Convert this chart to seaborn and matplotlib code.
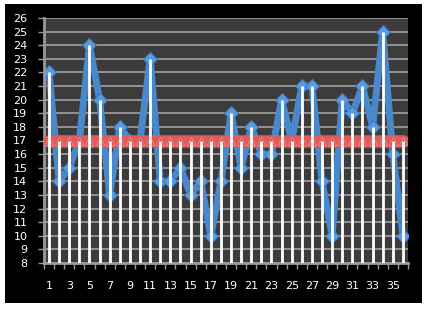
import numpy as np
import pandas as pd
import matplotlib
matplotlib.use('Agg')
import matplotlib.pyplot as plt
import seaborn as sns
from matplotlib.patches import Rectangle

## Data
categories = list(range(1, 37))
values = [22, 14, 15, 17, 24, 20, 13, 18, 17, 17, 23, 14, 14, 15, 13, 14, 10, 14,
          19, 15, 18, 16, 16, 20, 17, 21, 21, 14, 10, 20, 19, 21, 18, 25, 16, 10]
limit = [17] * 36
y_ticks = list(range(8, 27))
x_labels = [str(c) for c in categories if c % 2 == 1]

df = pd.DataFrame({'cat': categories, 'value': values, 'limit': limit})

sns.set_style('dark')
plt.rcParams['font.family'] = ['DejaVu Sans']

fig = plt.figure(figsize=(4.27, 3.09), dpi=100, facecolor='white')
bg = Rectangle((5 / 427, 1 - 303 / 309), 417 / 427, 299 / 309,
               transform=fig.transFigure, facecolor='black', edgecolor='none', zorder=-5)
fig.add_artist(bg)
ax = fig.add_axes([44 / 427, 46 / 309, 364 / 427, 245 / 309])
ax.set_facecolor('#3c3c3c')

## Horizontal grid
for y in y_ticks:
    ax.axhline(y, color='#9a9a9a', linewidth=1.3, zorder=1)

## Value series
sns.lineplot(data=df, x='cat', y='value', ax=ax, color='#4a88cc', linewidth=5,
             marker='D', markersize=7.5, markerfacecolor='#5b9ae0',
             markeredgecolor='#3a78bc', zorder=2)

## Limit series
sns.lineplot(data=df, x='cat', y='limit', ax=ax, color='#e05c5c', linewidth=9,
             marker='^', markersize=6, markerfacecolor='#d04848',
             markeredgecolor='#f08080', zorder=3)

## Drop lines
tops = np.maximum(df['value'], df['limit'])
ax.vlines(df['cat'], 8, tops, color='white', linewidth=2, zorder=4)

ax.set_xlim(0.5, 36.5)
ax.set_ylim(8, 26)
ax.set_yticks(y_ticks)
ax.set_yticklabels([str(y) for y in y_ticks])
ax.set_xticks([c for c in categories if c % 2 == 1])
ax.set_xticklabels(x_labels)
ax.set_xticks(np.arange(0.5, 37, 1), minor=True)
ax.tick_params(axis='x', which='major', length=0, pad=13, labelcolor='white', labelsize=8)
ax.tick_params(axis='x', which='minor', length=4, width=1, color='#9a9a9a', bottom=True)
ax.tick_params(axis='y', length=4, width=1, color='#9a9a9a', pad=8, labelcolor='white',
               labelsize=8, left=True)
ax.set_xlabel('')
ax.set_ylabel('')
for side in ['top', 'right']:
    ax.spines[side].set_visible(False)
for side in ['left', 'bottom']:
    ax.spines[side].set_color('#9a9a9a')
    ax.spines[side].set_linewidth(2)

fig.savefig('out.png', dpi=100, facecolor='white')
